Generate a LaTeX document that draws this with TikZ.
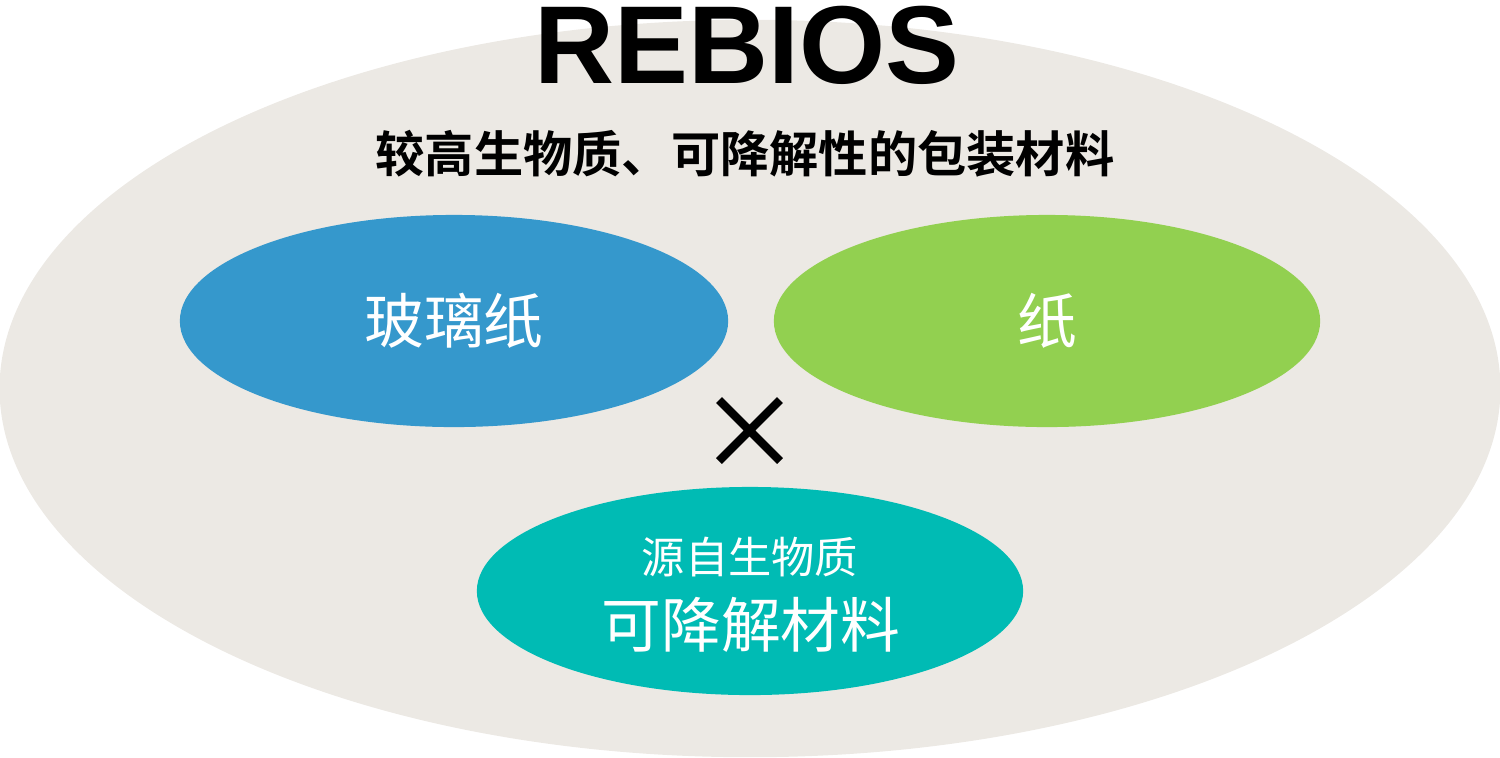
\documentclass[tikz,border=0pt]{standalone}
\usepackage{fontspec}
\setmainfont{Liberation Sans}
\newfontfamily\cjk{Noto Sans CJK SC}
\newfontfamily\cjkbold{Noto Sans CJK SC Bold}
\usetikzlibrary{shapes.geometric}
\definecolor{beige}{HTML}{ECE9E4}
\definecolor{blueE}{HTML}{3598CC}
\definecolor{greenE}{HTML}{92D050}
\definecolor{tealE}{HTML}{00BBB4}
\tikzset{
  blob/.style={ellipse, inner sep=0pt, minimum width=5.46cm, minimum height=2.1cm, text=white},
  wlabel/.style={font=\cjk\fontsize{17}{20}\selectfont}
}
\begin{document}
\begin{tikzpicture}[x=0.01cm,y=-0.01cm]
\useasboundingbox (0,0) rectangle (1500,757);
\node[ellipse, fill=beige, inner sep=0pt, minimum width=15cm, minimum height=7.37cm] (bg) at (750,388.5) {};
\node[inner sep=0pt, anchor=base] (title) at (747,83) {\fontsize{31.5}{36}\selectfont\bfseries REBIOS};
\node (sub) at (745,154) {\cjkbold\fontsize{14}{17}\selectfont 较高生物质、可降解性的包装材料};
\node[blob, fill=blueE, minimum width=5.48cm, minimum height=2.12cm] (glass) at (454,321) {};
\node[wlabel, text=white] at (glass.center) {玻璃纸};
\node[blob, fill=greenE, minimum width=5.46cm, minimum height=2.12cm] (paper) at (1047,321) {};
\node[wlabel, text=white] at (paper.center) {纸};
\node[blob, fill=tealE, minimum width=5.46cm, minimum height=2.08cm] (bio) at (750,591) {};
\node[text=white, font=\cjk\fontsize{12.3}{15}\selectfont] (bio1) at (750,557) {源自生物质};
\node[text=white, wlabel] (bio2) at (751,625) {可降解材料};
\coordinate (xa) at (719,400);
\coordinate (xb) at (780,461);
\coordinate (xc) at (780,400);
\coordinate (xd) at (719,461);
\draw[line width=2.4pt] (xa) -- (xb) (xc) -- (xd);
\end{tikzpicture}
\end{document}
